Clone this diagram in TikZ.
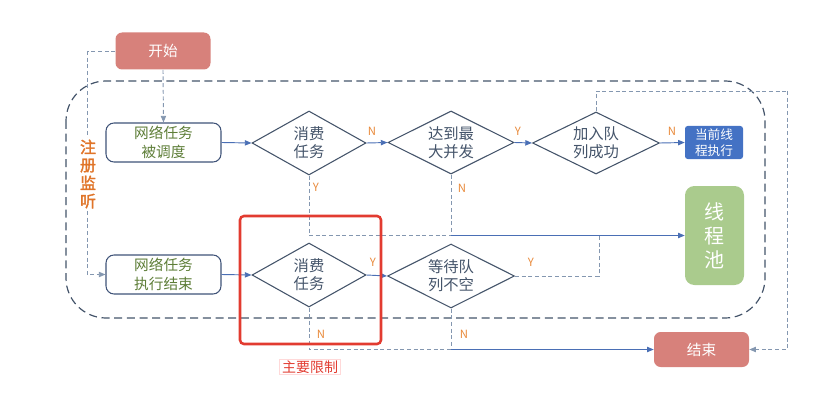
\documentclass[tikz,border=0pt]{standalone}
\usepackage{fontspec}
\setmainfont{Noto Sans CJK SC}
\newfontfamily\cjkbold[FakeBold=2]{Noto Sans CJK SC}
\usetikzlibrary{shapes.geometric,arrows.meta}
\definecolor{salmon}{HTML}{D7817B}
\definecolor{curblue}{HTML}{4472C4}
\definecolor{poolgreen}{HTML}{AACB8D}
\definecolor{slate}{HTML}{44546A}
\definecolor{boxline}{HTML}{3F5378}
\definecolor{boxtext}{HTML}{5E7E38}
\definecolor{arrowblue}{HTML}{4A6FB5}
\definecolor{dashblue}{HTML}{8497B0}
\definecolor{lblorange}{HTML}{E8893A}
\definecolor{regorange}{HTML}{E07428}
\definecolor{limred}{HTML}{E23B30}
\begin{document}
\begin{tikzpicture}[x=0.75pt,y=-0.75pt,
  termbox/.style={draw=none,fill=salmon,rounded corners=5pt,text=white,
    font=\fontsize{11}{13}\selectfont,minimum width=71.25pt,inner sep=0pt},
  taskbox/.style={draw=boxline,line width=0.8pt,fill=white,rounded corners=6pt,text=boxtext,
    align=center,font=\fontsize{11}{14}\selectfont,minimum width=86.25pt,minimum height=29.25pt,inner sep=0pt},
  decision/.style={diamond,draw=slate,line width=0.8pt,fill=white,inner sep=0pt},
  dtext/.style={align=center,text=slate,font=\fontsize{11.5}{13.5}\selectfont,inner sep=0pt},
  aline/.style={draw=arrowblue,line width=0.7pt,-{Triangle[length=5pt,width=4pt]}},
  pline/.style={draw=arrowblue,line width=0.7pt},
  dline/.style={draw=dashblue,line width=0.7pt,dash pattern=on 3pt off 2pt},
  darrow/.style={dline,-{Triangle[length=5pt,width=4pt]}},
  yn/.style={text=lblorange,font=\fontsize{8.5}{10}\selectfont,inner sep=0pt}
]
\useasboundingbox (0,0) rectangle (825,403);

% outer dashed region
\draw[draw=slate,line width=0.9pt,dash pattern=on 6pt off 3.5pt,rounded corners=30pt]
  (66,81) rectangle (765,318);

% nodes
\node[termbox,minimum height=27.75pt] (start) at (163,51) {开始};
\node[termbox,minimum height=26.25pt] (end) at (701.5,349.5) {结束};
\node[taskbox] (box1) at (163.5,142.5) {网络任务\\被调度};
\node[taskbox] (box2) at (163.5,274.5) {网络任务\\执行结束};
\node[decision,minimum width=85.5pt,minimum height=48pt,
  label={[dtext]center:消费\\任务}] (d1) at (309,143) {};
\node[decision,minimum width=94.5pt,minimum height=47.25pt,
  label={[dtext]center:达到最\\大并发}] (d2) at (451,142.5) {};
\node[decision,minimum width=95.25pt,minimum height=46.5pt,
  label={[dtext]center:加入队\\列成功}] (d3) at (596,143) {};
\node[decision,minimum width=85.5pt,minimum height=48pt,
  label={[dtext]center:消费\\任务}] (d5) at (309,275) {};
\node[decision,minimum width=95.25pt,minimum height=48pt,
  label={[dtext]center:等待队\\列不空}] (d4) at (451,276) {};
\node[fill=curblue,text=white,rounded corners=2pt,align=center,inner sep=0pt,
  minimum width=43.5pt,minimum height=24.75pt,font=\fontsize{9.5}{12}\selectfont] (cur) at (714,142.5) {当前线\\程执行};
\node[fill=poolgreen,text=white,rounded corners=7pt,align=center,inner sep=0pt,
  minimum width=44.25pt,minimum height=74.25pt,font=\fontsize{15}{18}\selectfont] (pool) at (714.5,235.5) {线\\程\\池};

% coordinates
\coordinate (lx) at (87,51);
\coordinate (tp) at (596,91);
\coordinate (rx) at (787,91);
\coordinate (j1) at (451,235.5);
\coordinate (j2) at (599,235.5);
\coordinate (j3) at (451,349.5);

% connectors
\draw[darrow] (start.south) -- (box1.north);
\draw[dline] (start.west) -- (lx);
\draw[darrow] (lx) |- (box2.west);
\node[text=regorange,font=\cjkbold\fontsize{12}{13.5}\selectfont,align=center,fill=white,inner sep=1pt] (reg) at (88,174) {注\\册\\监\\听};

\draw[aline] (box1.east) -- (d1.west);
\draw[aline] (d1.east) -- (d2.west);
\draw[aline] (d2.east) -- (d3.west);
\draw[aline] (d3.east) -- (cur.west);
\draw[dline] (d3.north) -- (tp) -- (rx);
\draw[darrow] (rx) |- (end.east);

\draw[dline] (d1.south) |- (j1);
\draw[dline] (d2.south) -- (j1);
\draw[aline] (j1) -- (pool.west);
\draw[dline] (d4.east) -| (j2);

\draw[aline] (box2.east) -- (d5.west);
\draw[aline] (d5.east) -- (d4.west);
\draw[dline] (d5.south) |- (j3);
\draw[dline] (d4.south) -- (j3);
\draw[aline] (j3) -- (end.west);

% Y/N labels
\node[yn] (n1) at (372,131) {N};
\node[yn] (y1) at (518,131) {Y};
\node[yn] (n2) at (672,131) {N};
\node[yn] (y2) at (316,187) {Y};
\node[yn] (n3) at (462,188) {N};
\node[yn] (y3) at (373,262) {Y};
\node[yn] (y4) at (531,262) {Y};
\node[yn] (n4) at (321,334) {N};
\node[yn] (n5) at (464,334) {N};

% main limitation highlight
\draw[draw=limred,line width=1.9pt,rounded corners=3pt] (240,216) rectangle (381,344);
\node[draw=red!15,line width=0.6pt,text=limred,font=\fontsize{10.5}{12}\selectfont,
  inner xsep=2pt,inner ysep=1pt] (lim) at (310,367) {主要限制};
\end{tikzpicture}
\end{document}
